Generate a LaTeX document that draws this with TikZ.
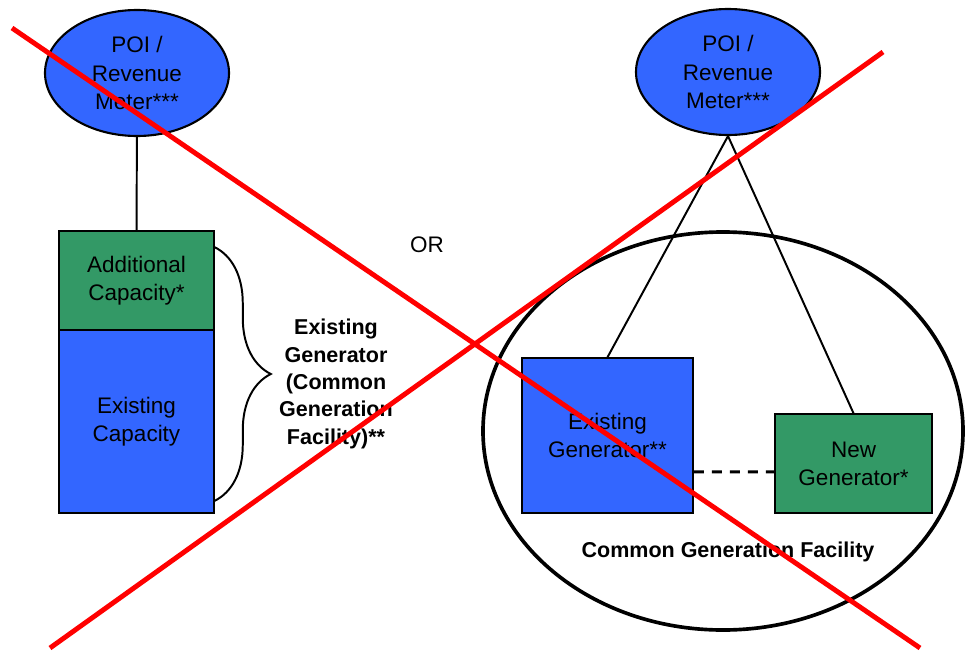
\documentclass[tikz,border=0pt]{standalone}
\usepackage{fontspec}
\setmainfont{Liberation Sans}
\usetikzlibrary{shapes.geometric,decorations.pathreplacing}
\definecolor{meterblue}{HTML}{3366FF}
\definecolor{capgreen}{HTML}{339966}

\begin{document}
\begin{tikzpicture}[
    x=0.25mm, y=-0.25mm,
    meter/.style={ellipse, draw, line width=1.5pt, fill=meterblue, inner sep=0pt,
        minimum width=46mm, minimum height=31.5mm, align=center,
        font=\fontsize{16}{20}\selectfont},
    block/.style={rectangle, draw, line width=1.1pt, inner sep=0pt, align=center,
        font=\fontsize{16}{20}\selectfont},
    boldtext/.style={align=center, font=\bfseries\fontsize{15.3}{19.5}\selectfont},
    link/.style={line width=1.4pt},
    cross/.style={red, line width=3.5pt}
]
\useasboundingbox (0,0) rectangle (967,650);

% left: one generator with added capacity
\node[meter] (meterL) at (137,73) {POI /\\Revenue\\Meter***};
\node[block, fill=capgreen, minimum width=38.75mm, minimum height=24.75mm] (addcap) at (136.5,280.5) {Additional\\Capacity*};
\node[block, fill=meterblue, minimum width=38.75mm, minimum height=45.75mm] (excap) at (136.5,421.5) {Existing\\Capacity};
\draw[link] (meterL) -- (addcap);
\draw[link, decorate, decoration={brace, amplitude=14mm}]
    ([yshift=-4.25mm]addcap.north east) -- ([yshift=3.25mm]excap.south east);
\node[boldtext] (brlabel) at (336,384) {Existing\\Generator\\(Common\\Generation\\Facility)**};

\node[font=\fontsize{16}{20}\selectfont] (or) at (427,245) {OR};

% right: two generators in one facility
\node[ellipse, draw, line width=2.6pt, minimum width=120mm, minimum height=99.5mm] (cgf) at (723,431) {};
\node[meter] (meterR) at (728,72) {POI /\\Revenue\\Meter***};
\node[block, fill=meterblue, minimum width=42.75mm, minimum height=38.75mm] (exgen) at (607.5,435.5) {Existing\\Generator**};
\node[block, fill=capgreen, minimum width=39.25mm, minimum height=24.75mm] (newgen) at (853.5,463.5) {New\\Generator*};
\draw[link] (meterR.south) -- (exgen.north);
\draw[link] (meterR.south) -- (newgen.north);
\draw[line width=2.2pt, dash pattern=on 2.5mm off 2mm] ([yshift=-9.1mm]exgen.east) -- ([yshift=-2.1mm]newgen.west);
\node[boldtext] (cgflabel) at (728,552) {Common Generation Facility};

% crossed out
\coordinate (xa1) at (12,28);
\coordinate (xa2) at (920,648);
\coordinate (xb1) at (883,52);
\coordinate (xb2) at (50,648);
\draw[cross] (xa1) -- (xa2);
\draw[cross] (xb1) -- (xb2);

\end{tikzpicture}
\end{document}
